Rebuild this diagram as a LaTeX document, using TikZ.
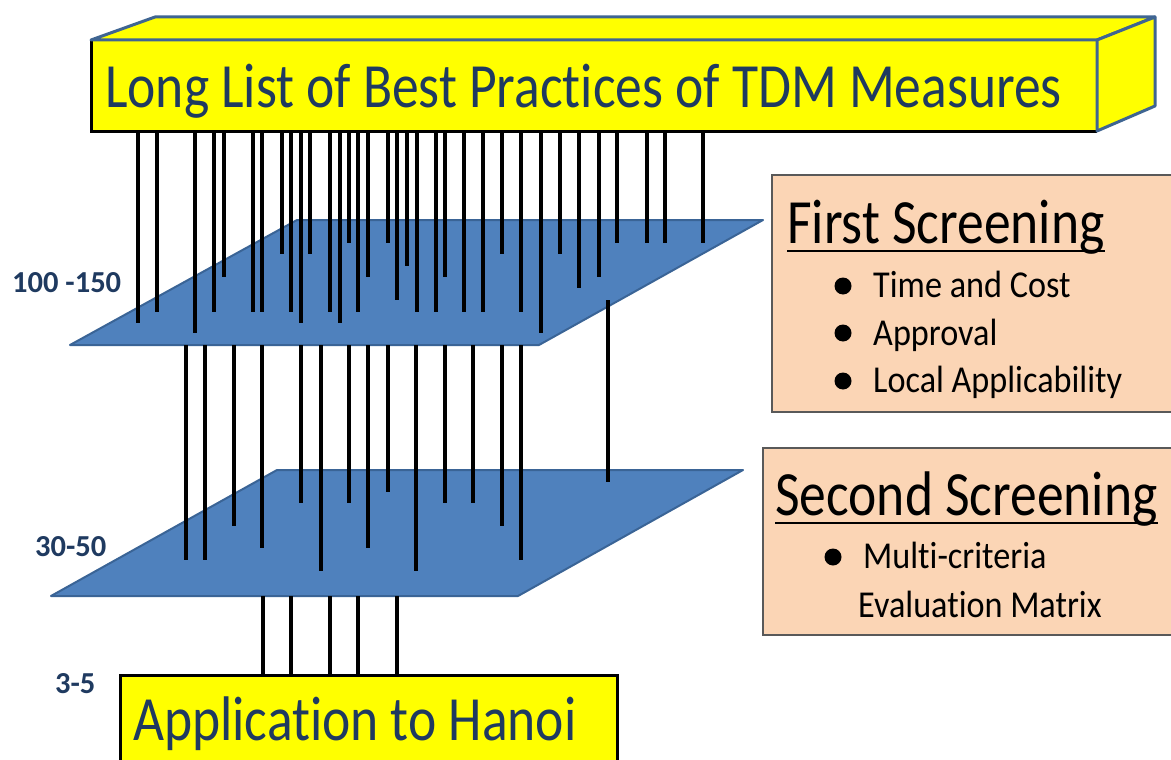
\documentclass[tikz,border=0pt]{standalone}
\usepackage{fontspec}
\setmainfont{Carlito}[FakeStretch=0.85,Ligatures=NoCommon]
\newfontfamily\itemfont{Carlito}[FakeStretch=0.9,Ligatures=NoCommon]
\newfontfamily\lblfont{Carlito}[Ligatures=NoCommon]
\definecolor{yel}{HTML}{FFFF00}
\definecolor{edgeblue}{HTML}{3F6592}
\definecolor{planefill}{HTML}{4F81BD}
\definecolor{planeedge}{HTML}{3A6496}
\definecolor{peach}{HTML}{FBD5B5}
\definecolor{boxedge}{HTML}{595959}
\definecolor{titleblue}{HTML}{1F3A60}
\definecolor{lblblue}{HTML}{1F3A60}
\tikzset{
  plane/.style={fill=planefill,draw=planeedge,line width=2pt,line join=round},
  rod/.style={line width=3.3pt,black},
  screenbox/.style={fill=peach,draw=boxedge,line width=1.5pt},
  txt/.style={inner sep=0pt,anchor=base west},
  bigtxt/.style={txt,font=\fontsize{63}{70}\selectfont,text=titleblue},
  headtxt/.style={txt,font=\fontsize{63}{70}\selectfont,text=black},
  itemtxt/.style={txt,font=\itemfont\fontsize{38}{44}\selectfont,text=black},
  lbl/.style={txt,font=\lblfont\bfseries\fontsize{30.5}{34}\selectfont,text=lblblue},
  dot/.style={circle,fill=black,inner sep=0pt,minimum size=17pt}
}
\begin{document}
\begin{tikzpicture}[x=1pt,y=-1pt]
\useasboundingbox (0,0) rectangle (1171,760);
% planes
\draw[plane] (297,220) -- (763,220) -- (539,345) -- (70,345) -- cycle;
\draw[plane] (277,470) -- (743,470) -- (518,596) -- (51,596) -- cycle;
% top box
\fill[yel] (91,40) rectangle (1097,131);
\draw[black,line width=3pt] (91,40) -- (91,131) -- (1097,131);
\draw[fill=yel,draw=edgeblue,line width=3pt,line join=round] (91,40) -- (155,17) -- (1155,17) -- (1097,40) -- cycle;
\draw[fill=yel,draw=edgeblue,line width=3pt,line join=round] (1097,40) -- (1155,17) -- (1155,106) -- (1097,131) -- cycle;
\node[bigtxt] (title) at (105,107) {Long List of Best Practices of TDM Measures};
% application box
\draw[fill=yel,draw=black,line width=3pt] (120,675) rectangle (617,775);
\node[bigtxt] (app) at (133,740) {Application to Hanoi};
% rods from top box to first plane
\foreach \x/\e in {138/323,157/312,195/333,214/312,224/277,253/312,262/312,282/254,291/312,301/323,310/254,330/312,340/323,349/243,358/312,368/277,388/243,397/300,407/266,417/312,436/312,445/277,464/312,483/312,502/254,521/312,541/333,560/254,579/288,599/277,617/243,647/243,665/243,703/243}
  \draw[rod] (\x,131) -- (\x,\e);
% rods from first plane to second plane
\foreach \x/\e in {186/560,205/560,234/526,262/548,301/503,321/571,349/503,368/548,388/492,416/571,445/503,473/503,502/526,521/560}
  \draw[rod] (\x,345) -- (\x,\e);
\draw[rod] (608,300) -- (608,482);
% rods from second plane to application box
\foreach \x in {263,291,330,358,397}
  \draw[rod] (\x,596) -- (\x,675);
% labels
\node[lbl] (l1) at (12,292) {100 -150};
\node[lbl] (l2) at (35,556) {30-50};
\node[lbl] (l3) at (55,693) {3-5};
% first screening box
\draw[screenbox] (772,175) rectangle (1180,412);
\node[headtxt] (fs) at (787,243) {First Screening};
\draw[line width=2pt] ([yshift=-8pt]fs.base west) -- ([yshift=-8pt]fs.base east);
\node[dot] (b1) at (843,286) {};
\node[dot] (b2) at (843,333) {};
\node[dot] (b3) at (843,381) {};
\node[itemtxt] (i1) at (873,297) {Time and Cost};
\node[itemtxt] (i2) at (873,345) {Approval};
\node[itemtxt] (i3) at (873,392) {Local Applicability};
% second screening box
\draw[screenbox] (763,448) rectangle (1180,635);
\node[headtxt] (ss) at (775,515) {Second Screening};
\draw[line width=2pt] ([yshift=-8pt]ss.base west) -- ([yshift=-8pt]ss.base east);
\node[dot] (b4) at (833,557) {};
\node[itemtxt] (i4) at (863,568) {Multi-criteria};
\node[itemtxt] (i5) at (858,617) {Evaluation Matrix};
\end{tikzpicture}
\end{document}
